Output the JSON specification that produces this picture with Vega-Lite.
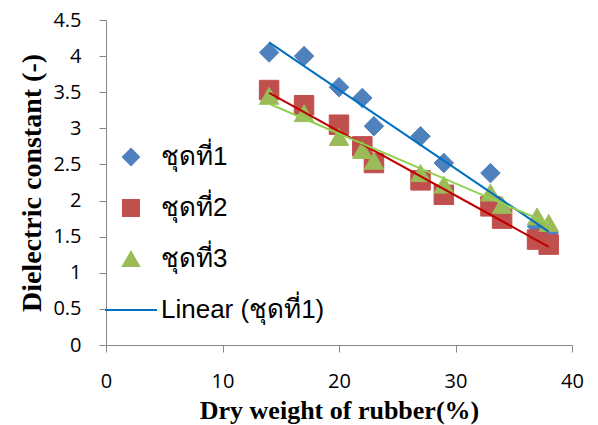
{
  "$schema": "https://vega.github.io/schema/vega-lite/v6.json",
  "width": 466,
  "height": 325,
  "autosize": {"type": "none"},
  "padding": {"left": 106, "top": 20, "right": 26, "bottom": 80},
  "background": "white",
  "config": {
    "view": {"stroke": null},
    "axis": {
      "grid": false,
      "domainColor": "#868686",
      "tickColor": "#868686",
      "domainWidth": 1,
      "tickWidth": 1,
      "tickSize": 7,
      "labelFont": "Open Sans",
      "labelFontSize": 20,
      "labelColor": "black",
      "labelOverlap": false,
      "titleFont": "Liberation Serif",
      "titleFontSize": 26,
      "titleFontWeight": "bold",
      "titleColor": "black"
    }
  },
  "datasets": {
    "points": [
      {"series": "ชุดที่1", "x": 14, "y": 4.05},
      {"series": "ชุดที่1", "x": 17, "y": 4.0},
      {"series": "ชุดที่1", "x": 20, "y": 3.57},
      {"series": "ชุดที่1", "x": 22, "y": 3.42},
      {"series": "ชุดที่1", "x": 23, "y": 3.03},
      {"series": "ชุดที่1", "x": 27, "y": 2.89},
      {"series": "ชุดที่1", "x": 29, "y": 2.52},
      {"series": "ชุดที่1", "x": 33, "y": 2.38},
      {"series": "ชุดที่1", "x": 37, "y": 1.64},
      {"series": "ชุดที่1", "x": 38, "y": 1.55},
      {"series": "ชุดที่2", "x": 14, "y": 3.53},
      {"series": "ชุดที่2", "x": 17, "y": 3.32},
      {"series": "ชุดที่2", "x": 20, "y": 3.05},
      {"series": "ชุดที่2", "x": 22, "y": 2.75},
      {"series": "ชุดที่2", "x": 23, "y": 2.52},
      {"series": "ชุดที่2", "x": 27, "y": 2.28},
      {"series": "ชุดที่2", "x": 29, "y": 2.08},
      {"series": "ชุดที่2", "x": 33, "y": 1.92},
      {"series": "ชุดที่2", "x": 34, "y": 1.75},
      {"series": "ชุดที่2", "x": 37, "y": 1.46},
      {"series": "ชุดที่2", "x": 38, "y": 1.39},
      {"series": "ชุดที่3", "x": 14, "y": 3.45},
      {"series": "ชุดที่3", "x": 17, "y": 3.21},
      {"series": "ชุดที่3", "x": 20, "y": 2.88},
      {"series": "ชุดที่3", "x": 22, "y": 2.7},
      {"series": "ชุดที่3", "x": 23, "y": 2.55},
      {"series": "ชุดที่3", "x": 27, "y": 2.38},
      {"series": "ชุดที่3", "x": 29, "y": 2.22},
      {"series": "ชุดที่3", "x": 33, "y": 2.11},
      {"series": "ชุดที่3", "x": 34, "y": 1.94},
      {"series": "ชุดที่3", "x": 37, "y": 1.78},
      {"series": "ชุดที่3", "x": 38, "y": 1.69}
    ],
    "trend1": [
      {"x": 14, "y": 4.19},
      {"x": 38, "y": 1.57}
    ],
    "trend2": [
      {"x": 14, "y": 3.49},
      {"x": 38, "y": 1.36}
    ],
    "trend3": [
      {"x": 14, "y": 3.34},
      {"x": 38, "y": 1.685}
    ]
  },
  "layer": [
    {
      "data": {"name": "points"},
      "mark": {"type": "point", "filled": true, "opacity": 1, "size": 380, "strokeWidth": 1},
      "encoding": {
        "x": {
          "field": "x", "type": "quantitative",
          "scale": {"domain": [0, 40], "nice": false, "zero": true},
          "axis": {
            "values": [0, 10, 20, 30, 40],
            "title": "Dry weight of rubber(%)",
            "labelPadding": 19,
            "labelFlush": false,
            "titleBaseline": "alphabetic",
            "titleY": 73
          }
        },
        "y": {
          "field": "y", "type": "quantitative",
          "scale": {"domain": [0, 4.5], "nice": false},
          "axis": {
            "values": [0, 0.5, 1, 1.5, 2, 2.5, 3, 3.5, 4, 4.5],
            "tickCount": 10,
            "format": ".1~f",
            "labelOverlap": false,
            "title": "Dielectric constant (-)",
            "titleFontSize": 28,
            "labelPadding": 18,
            "labelFlush": false,
            "titleBaseline": "alphabetic",
            "titleX": -66
          }
        },
        "color": {
          "field": "series", "type": "nominal",
          "scale": {
            "domain": ["ชุดที่1", "ชุดที่2", "ชุดที่3", "Linear (ชุดที่1)"],
            "range": ["#4F81BD", "#C0504D", "#9BBB59", "#0070C0"]
          },
          "legend": {
            "title": null,
            "orient": "none",
            "legendX": 12,
            "legendY": 124,
            "padding": 0,
            "symbolSize": 256,
            "symbolStrokeWidth": 2,
            "symbolOpacity": 1,
            "labelFont": "Liberation Sans",
            "labelFontSize": 26,
            "labelColor": "black",
            "labelLimit": 0,
            "labelOffset": 17,
            "rowPadding": 25
          }
        },
        "stroke": {
          "field": "series", "type": "nominal",
          "scale": {
            "domain": ["ชุดที่1", "ชุดที่2", "ชุดที่3", "Linear (ชุดที่1)"],
            "range": ["#4F81BD", "#C0504D", "#9BBB59", "#0070C0"]
          }
        },
        "shape": {
          "field": "series", "type": "nominal",
          "scale": {
            "domain": ["ชุดที่1", "ชุดที่2", "ชุดที่3", "Linear (ชุดที่1)"],
            "range": ["diamond", "square", "triangle-up", "M-3.25,0L3.25,0"]
          }
        }
      }
    },
    {
      "data": {"name": "trend1"},
      "mark": {"type": "line", "strokeWidth": 2, "color": "#0070C0"},
      "encoding": {
        "x": {"field": "x", "type": "quantitative"},
        "y": {"field": "y", "type": "quantitative"}
      }
    },
    {
      "data": {"name": "trend2"},
      "mark": {"type": "line", "strokeWidth": 2, "color": "#C00000"},
      "encoding": {
        "x": {"field": "x", "type": "quantitative"},
        "y": {"field": "y", "type": "quantitative"}
      }
    },
    {
      "data": {"name": "trend3"},
      "mark": {"type": "line", "strokeWidth": 2, "color": "#92D050"},
      "encoding": {
        "x": {"field": "x", "type": "quantitative"},
        "y": {"field": "y", "type": "quantitative"}
      }
    }
  ]
}
